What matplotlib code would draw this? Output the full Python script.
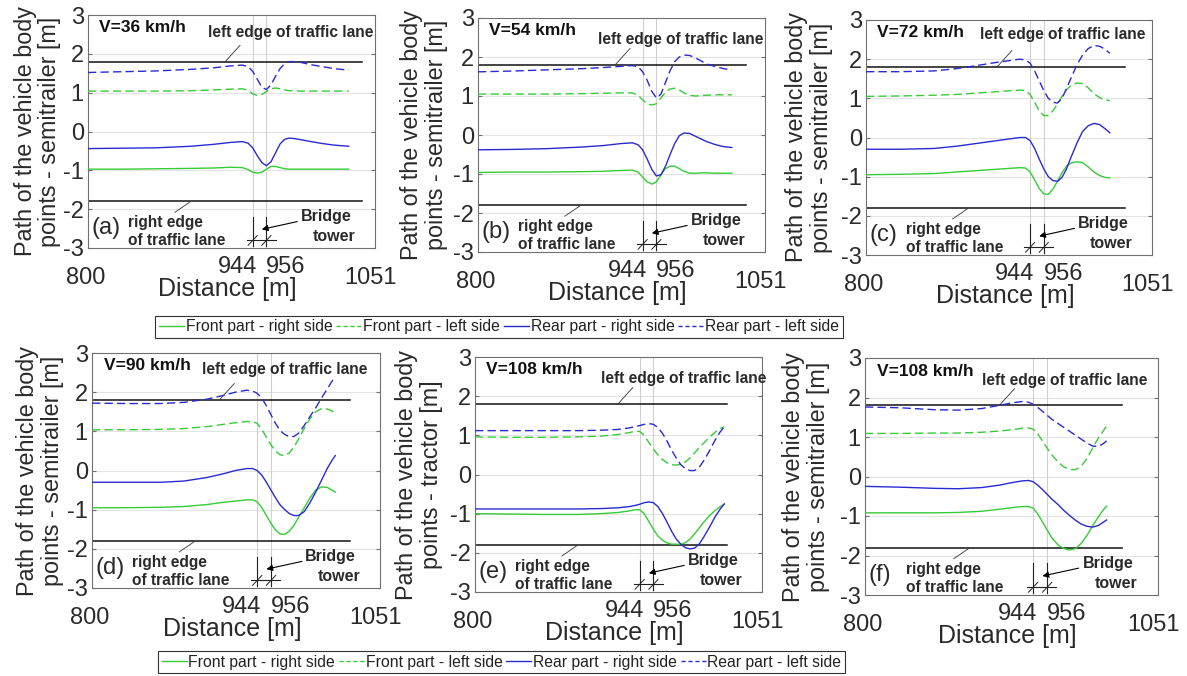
import matplotlib
matplotlib.use('Agg')
import matplotlib.pyplot as plt
from matplotlib.lines import Line2D

plt.rcParams['font.family'] = ['Liberation Sans', 'DejaVu Sans']

# ---------------- data ----------------
speeds = ['V=36 km/h', 'V=54 km/h', 'V=72 km/h', 'V=90 km/h', 'V=108 km/h', 'V=108 km/h']
tags = ['(a)', '(b)', '(c)', '(d)', '(e)', '(f)']
ylabels = ['Path of the vehicle body\npoints - semitrailer [m]'] * 4 + \
          ['Path of the vehicle body\npoints - tractor [m]',
           'Path of the vehicle body\npoints - semitrailer [m]']
legend_labels = ['Front part - right side', 'Front part - left side',
                 'Rear part - right side', 'Rear part - left side']
lane_edge = 1.8
lane_end = [1040, 1034, 1027, 1025, 1020, 1020]
tower_x = [944, 956]
xtick_vals = [800, 944, 956, 1051]
ytick_vals = [-3, -2, -1, 0, 1, 2, 3]

# (a) V=36
x_a = [800, 830, 860, 890, 910, 925, 935, 940, 944, 948, 952, 956, 960, 964, 968, 972,
       976, 980, 986, 995, 1005, 1015, 1028]
fr_a = [-0.97, -0.97, -0.96, -0.95, -0.94, -0.92, -0.93, -0.98, -1.05, -1.07, -1.05, -0.97,
        -0.9, -0.9, -0.93, -0.96, -0.97, -0.97, -0.97, -0.97, -0.97, -0.97, -0.97]
fl_a = [1.04, 1.04, 1.04, 1.05, 1.07, 1.09, 1.1, 1.06, 0.97, 0.93, 0.95, 1.03, 1.1, 1.12,
        1.1, 1.07, 1.05, 1.05, 1.04, 1.04, 1.04, 1.04, 1.04]
rr_a = [-0.44, -0.43, -0.42, -0.38, -0.33, -0.28, -0.26, -0.3, -0.42, -0.62, -0.8, -0.88,
        -0.78, -0.55, -0.32, -0.2, -0.17, -0.18, -0.21, -0.26, -0.31, -0.35, -0.38]
rl_a = [1.52, 1.54, 1.56, 1.6, 1.64, 1.69, 1.71, 1.67, 1.55, 1.35, 1.14, 1.08, 1.2, 1.42,
        1.62, 1.75, 1.8, 1.8, 1.78, 1.72, 1.67, 1.62, 1.58]

# (b) V=54
x_b = [800, 830, 860, 890, 910, 925, 935, 940, 944, 948, 952, 956, 960, 964, 968, 972,
       976, 980, 985, 990, 995, 1000, 1008, 1015, 1022]
fr_b = [-0.96, -0.95, -0.95, -0.94, -0.93, -0.91, -0.9, -0.95, -1.08, -1.2, -1.26, -1.2,
        -1.02, -0.86, -0.8, -0.8, -0.86, -0.93, -0.98, -0.98, -0.97, -0.97, -0.98, -0.98, -0.98]
fl_b = [1.05, 1.05, 1.05, 1.06, 1.07, 1.08, 1.08, 1.02, 0.9, 0.8, 0.77, 0.8, 0.95, 1.1,
        1.18, 1.2, 1.16, 1.08, 1.02, 1.0, 1.01, 1.02, 1.03, 1.03, 1.03]
rr_b = [-0.38, -0.37, -0.35, -0.31, -0.27, -0.22, -0.2, -0.25, -0.38, -0.62, -0.88, -1.05,
        -1.02, -0.8, -0.5, -0.22, -0.02, 0.05, 0.04, -0.03, -0.1, -0.17, -0.25, -0.3, -0.32]
rl_b = [1.62, 1.64, 1.67, 1.7, 1.73, 1.76, 1.78, 1.75, 1.62, 1.4, 1.12, 0.95, 1.05, 1.35,
        1.65, 1.88, 2.0, 2.05, 2.04, 1.98, 1.9, 1.82, 1.75, 1.7, 1.67]

# (c) V=72
x_c = [800, 830, 860, 880, 900, 915, 925, 935, 940, 944, 948, 952, 956, 960, 964, 968,
       972, 976, 980, 985, 990, 995, 1000, 1005, 1010, 1014]
fr_c = [-0.95, -0.94, -0.92, -0.88, -0.84, -0.81, -0.79, -0.77, -0.78, -0.88, -1.08, -1.3,
        -1.44, -1.45, -1.32, -1.12, -0.9, -0.73, -0.65, -0.62, -0.64, -0.75, -0.88, -0.97,
        -1.02, -1.03]
fl_c = [1.05, 1.06, 1.08, 1.1, 1.14, 1.17, 1.19, 1.21, 1.2, 1.1, 0.9, 0.68, 0.56, 0.56,
        0.68, 0.85, 1.05, 1.22, 1.33, 1.39, 1.38, 1.27, 1.12, 1.02, 0.96, 0.94]
rr_c = [-0.3, -0.3, -0.28, -0.22, -0.14, -0.08, -0.04, 0.0, 0.0, -0.08, -0.28, -0.55, -0.8,
        -1.0, -1.1, -1.12, -1.02, -0.8, -0.5, -0.15, 0.15, 0.3, 0.36, 0.33, 0.22, 0.12]
rl_c = [1.68, 1.68, 1.7, 1.76, 1.85, 1.92, 1.96, 2.0, 1.98, 1.9, 1.7, 1.45, 1.2, 1.0, 0.9,
        0.88, 1.0, 1.25, 1.52, 1.85, 2.1, 2.27, 2.35, 2.33, 2.25, 2.15]

# (d) V=90
x_d = [800, 830, 860, 880, 900, 915, 925, 935, 940, 944, 948, 952, 956, 960, 964, 968,
       972, 976, 980, 985, 990, 995, 1000, 1005, 1009, 1012]
fr_d = [-0.95, -0.95, -0.94, -0.92, -0.87, -0.81, -0.78, -0.75, -0.75, -0.8, -0.95, -1.15,
        -1.35, -1.52, -1.62, -1.63, -1.55, -1.4, -1.2, -0.95, -0.7, -0.5, -0.42, -0.43,
        -0.5, -0.55]
fl_d = [1.04, 1.04, 1.05, 1.07, 1.12, 1.18, 1.22, 1.25, 1.25, 1.2, 1.05, 0.85, 0.65, 0.5,
        0.4, 0.38, 0.45, 0.6, 0.8, 1.08, 1.32, 1.5, 1.58, 1.57, 1.52, 1.47]
rr_d = [-0.3, -0.3, -0.3, -0.27, -0.18, -0.08, 0.0, 0.05, 0.05, 0.0, -0.12, -0.3, -0.5,
        -0.7, -0.88, -1.0, -1.1, -1.15, -1.15, -1.05, -0.82, -0.55, -0.25, 0.05, 0.25, 0.38]
rl_d = [1.72, 1.71, 1.71, 1.74, 1.82, 1.92, 2.0, 2.05, 2.03, 1.97, 1.85, 1.65, 1.42, 1.2,
        1.02, 0.92, 0.86, 0.87, 0.95, 1.15, 1.38, 1.6, 1.85, 2.08, 2.27, 2.4]

# (e) V=108, tractor
x_e = [800, 830, 860, 890, 910, 925, 935, 940, 944, 948, 952, 956, 960, 964, 968, 972,
       976, 980, 984, 988, 992, 996, 1000, 1005, 1010, 1014, 1018]
fr_e = [-1.0, -1.01, -1.02, -1.02, -1.0, -0.97, -0.93, -0.9, -0.9, -1.0, -1.2, -1.4, -1.57,
        -1.68, -1.75, -1.78, -1.78, -1.78, -1.74, -1.65, -1.52, -1.37, -1.22, -1.05, -0.92,
        -0.83, -0.76]
fl_e = [0.96, 0.95, 0.95, 0.96, 0.98, 1.02, 1.07, 1.1, 1.1, 1.0, 0.82, 0.65, 0.5, 0.38,
        0.3, 0.25, 0.24, 0.26, 0.32, 0.42, 0.55, 0.68, 0.8, 0.95, 1.08, 1.17, 1.22]
rr_e = [-0.88, -0.88, -0.88, -0.88, -0.87, -0.85, -0.82, -0.79, -0.76, -0.72, -0.7, -0.72,
        -0.82, -1.0, -1.22, -1.45, -1.65, -1.78, -1.87, -1.9, -1.88, -1.78, -1.6, -1.35,
        -1.08, -0.9, -0.75]
rl_e = [1.12, 1.12, 1.12, 1.12, 1.13, 1.15, 1.19, 1.22, 1.25, 1.28, 1.3, 1.28, 1.2, 1.05,
        0.85, 0.62, 0.42, 0.25, 0.15, 0.1, 0.1, 0.18, 0.35, 0.6, 0.88, 1.07, 1.22]

# (f) V=108, semitrailer
x_f = [800, 830, 860, 880, 900, 915, 925, 935, 940, 944, 948, 952, 956, 960, 965, 970,
       975, 980, 985, 990, 995, 1000, 1004, 1007]
fr_f = [-0.92, -0.92, -0.92, -0.91, -0.88, -0.83, -0.79, -0.76, -0.76, -0.8, -0.95, -1.15,
        -1.35, -1.55, -1.72, -1.82, -1.86, -1.83, -1.7, -1.5, -1.25, -1.02, -0.85, -0.75]
fl_f = [1.09, 1.09, 1.1, 1.1, 1.12, 1.15, 1.18, 1.22, 1.23, 1.2, 1.08, 0.9, 0.72, 0.55,
        0.38, 0.25, 0.18, 0.17, 0.25, 0.45, 0.72, 0.98, 1.15, 1.28]
rr_f = [-0.25, -0.27, -0.3, -0.31, -0.28, -0.22, -0.16, -0.11, -0.1, -0.13, -0.22, -0.33,
        -0.45, -0.57, -0.7, -0.85, -0.98, -1.1, -1.2, -1.26, -1.28, -1.24, -1.16, -1.1]
rl_f = [1.76, 1.74, 1.69, 1.68, 1.72, 1.8, 1.86, 1.9, 1.88, 1.83, 1.75, 1.65, 1.55, 1.45,
        1.35, 1.25, 1.15, 1.05, 0.95, 0.85, 0.77, 0.76, 0.83, 0.9]

panels = [(x_a, fr_a, fl_a, rr_a, rl_a), (x_b, fr_b, fl_b, rr_b, rl_b),
          (x_c, fr_c, fl_c, rr_c, rl_c), (x_d, fr_d, fl_d, rr_d, rl_d),
          (x_e, fr_e, fl_e, rr_e, rl_e), (x_f, fr_f, fl_f, rr_f, rl_f)]

# ---------------- layout / style ----------------
W, H = 1187, 676
boxes_px = [(88, 375, 15, 248), (478, 765, 18, 252), (866, 1152, 20, 255),
            (92, 380, 353, 588), (475, 762, 357, 592), (865, 1158, 358, 595)]
ylab_x = [-0.176, -0.188, -0.199, -0.181, -0.195, -0.201]
left_text_x = [905, 905, 900, 896, 910, 900]
left_text_y = [2.54, 2.44, 2.62, 2.59, 2.46, 2.44]
GREEN = '#36cc36'
BLUE = '#2a2ad2'
DASH = (6, 3)
GRID = '#e3e3e3'
FRAME = '#707070'
TXT = '#2a2a2a'

fig = plt.figure(figsize=(W / 100, H / 100), dpi=100)

for i, (x, fr, fl, rr, rl) in enumerate(panels):
    l, r, t, b = boxes_px[i]
    ax = fig.add_axes([l / W, 1 - b / H, (r - l) / W, (b - t) / H])
    ax.set_xlim(800, 1051)
    ax.set_ylim(-3, 3)

    # grid
    for yv in ytick_vals[1:-1]:
        ax.axhline(yv, color=GRID, lw=0.8, zorder=0)
    for xv in tower_x:
        ax.axvline(xv, color='#d0d0d0', lw=0.8, zorder=0)

    # lane edges
    ax.plot([800, lane_end[i]], [lane_edge, lane_edge], color='#111111', lw=1.1, zorder=2)
    ax.plot([800, lane_end[i]], [-lane_edge, -lane_edge], color='#111111', lw=1.1, zorder=2)

    # series
    ax.plot(x, fr, color=GREEN, lw=1.0, zorder=3)
    ax.plot(x, fl, color=GREEN, lw=1.0, dashes=DASH, zorder=3)
    ax.plot(x, rr, color=BLUE, lw=1.0, zorder=3)
    ax.plot(x, rl, color=BLUE, lw=1.0, dashes=DASH, zorder=3)

    # bridge tower sketch
    for xv in tower_x:
        ax.plot([xv, xv], [-2.2, -2.95], color='#222222', lw=0.8, zorder=3)
        ax.plot([xv - 4, xv + 4], [-2.93, -2.68], color='#222222', lw=0.7, zorder=3)
    ax.plot([939, 964], [-2.8, -2.8], color='#222222', lw=0.8, zorder=3)
    ax.annotate('', xy=(952, -2.52), xytext=(983, -2.32),
                arrowprops=dict(arrowstyle='-|>', color='k', lw=0.8,
                                mutation_scale=9, shrinkA=0, shrinkB=0), zorder=4)
    ax.text(1008, -2.2, 'Bridge', fontsize=11.5, fontweight='bold', ha='center', va='center',
            color=TXT)
    ax.text(1015, -2.7, 'tower', fontsize=11.5, fontweight='bold', ha='center', va='center',
            color=TXT)

    # lane annotations
    ax.text(left_text_x[i], left_text_y[i], 'left edge of traffic lane', fontsize=11.2,
            fontweight='bold', ha='left', va='center', color=TXT)
    ax.plot([left_text_x[i] + 15, left_text_x[i] + 28], [1.8, 2.22], color='#333333', lw=0.6)
    ax.text(835, -2.58, 'right edge\nof traffic lane', fontsize=11.2, fontweight='bold',
            ha='left', va='center', linespacing=1.25, color=TXT)
    ax.plot([889, 876], [-1.82, -2.08], color='#333333', lw=0.6)

    ax.text(0.04, 0.945, speeds[i], transform=ax.transAxes, fontsize=12.5,
            fontweight='bold', ha='left', va='center', color='#111111')
    ax.text(0.012, 0.085, tags[i], transform=ax.transAxes, fontsize=17,
            ha='left', va='center', color=TXT)

    # ticks
    ax.set_xticks([])
    ax.set_yticks(ytick_vals)
    ax.set_yticklabels([str(v) for v in ytick_vals], fontsize=17, color=TXT)
    ax.tick_params(axis='y', direction='in', length=3, pad=3, right=True, color=FRAME)
    for sp in ax.spines.values():
        sp.set_color(FRAME)
        sp.set_linewidth(0.8)

    xc = ('data', 'axes fraction')
    ax.annotate(str(xtick_vals[1]), xy=(xtick_vals[1], 0), xycoords=xc, xytext=(3, -6),
                textcoords='offset points', ha='right', va='top', fontsize=17, color=TXT)
    ax.annotate(str(xtick_vals[2]), xy=(xtick_vals[2], 0), xycoords=xc, xytext=(0, -6),
                textcoords='offset points', ha='left', va='top', fontsize=17, color=TXT)
    ax.annotate(str(xtick_vals[0]), xy=(xtick_vals[0], 0), xycoords=xc, xytext=(-2, -14),
                textcoords='offset points', ha='center', va='top', fontsize=17, color=TXT)
    ax.annotate(str(xtick_vals[3]), xy=(xtick_vals[3], 0), xycoords=xc, xytext=(-3, -14),
                textcoords='offset points', ha='center', va='top', fontsize=17, color=TXT,
                annotation_clip=False)

    ax.annotate('Distance [m]', xy=(0.5, 0), xycoords='axes fraction', xytext=(-3, -21),
                textcoords='offset points', ha='center', va='top', fontsize=18, color=TXT)
    ax.text(ylab_x[i], 0.5, ylabels[i], transform=ax.transAxes, rotation=90, fontsize=16.8,
            ha='center', va='center', multialignment='center', linespacing=1.1,
            color=TXT)

handles = [Line2D([], [], color=GREEN, lw=1),
           Line2D([], [], color=GREEN, lw=1, dashes=(3, 2)),
           Line2D([], [], color=BLUE, lw=1),
           Line2D([], [], color=BLUE, lw=1, dashes=(3, 2))]
for cx, cy in [((160 + 838) / 2, 327), ((168 + 835) / 2, 662)]:
    leg = fig.legend(handles, legend_labels, loc='center', bbox_to_anchor=(cx / W, 1 - cy / H),
                     ncol=4, fontsize=11.3, handlelength=1.6, handletextpad=0.1,
                     columnspacing=0.25, borderpad=0.25, fancybox=False, frameon=True,
                     edgecolor='#333333', framealpha=1)
    leg.get_frame().set_linewidth(0.8)
    for txt in leg.get_texts():
        txt.set_color('#222222')

fig.savefig('out.png', dpi=100)
